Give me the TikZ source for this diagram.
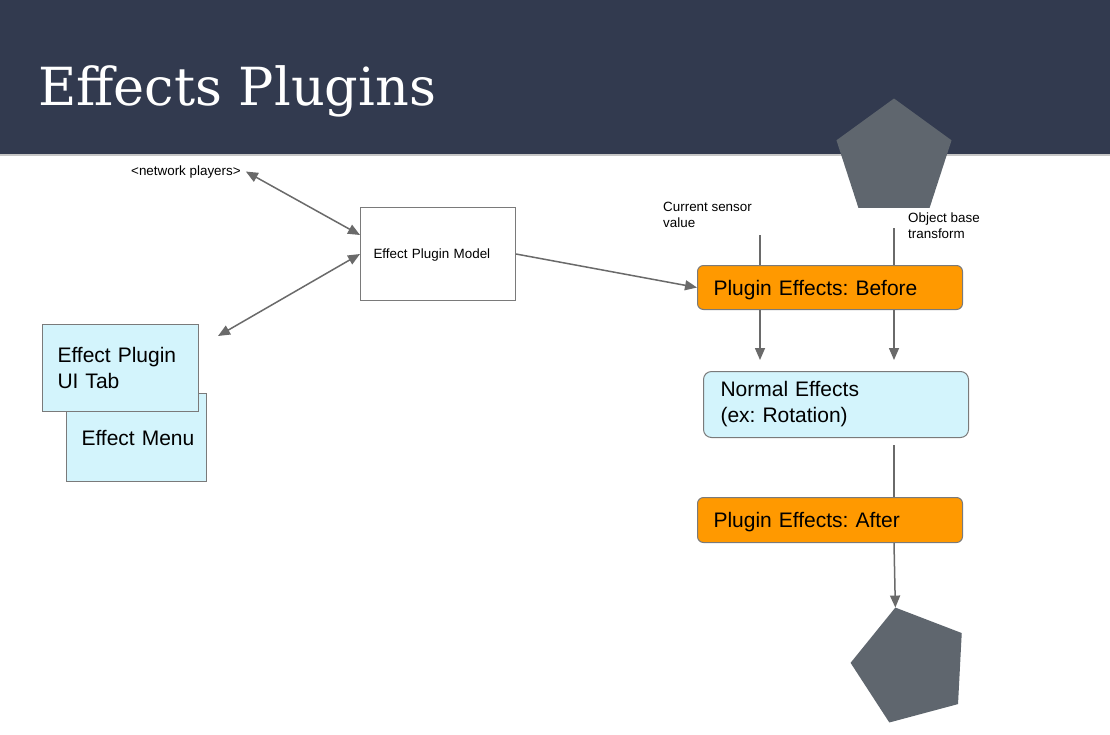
\documentclass[tikz,border=0pt]{standalone}
\usepackage{fontspec}
\setmainfont{Liberation Sans}
\newfontfamily\titlefont{DejaVu Serif}
\usetikzlibrary{arrows.meta,calc,positioning,shapes.geometric}
\definecolor{header}{HTML}{323A4F}
\definecolor{edge}{HTML}{6A6A6A}
\definecolor{frame}{HTML}{7A7A7A}
\definecolor{sky}{HTML}{D3F4FC}
\definecolor{amber}{HTML}{FF9900}
\definecolor{slate}{HTML}{5F666E}
\tikzset{
  panel/.style={draw=frame,line width=1pt,anchor=north west,align=left,inner ysep=0pt,
    font=\fontsize{21}{26}\selectfont\frenchspacing},
  note/.style={align=left,inner sep=0pt,font=\fontsize{13.4}{15.5}\selectfont},
  pent/.style={regular polygon,regular polygon sides=5,minimum size=121pt,fill=slate,
    inner sep=0pt,outer sep=0pt},
  link/.style={draw=edge,line width=1.5pt},
  tip/.style={-{Triangle[length=12pt,width=10pt]}},
  tips/.style={{Triangle[length=12pt,width=10pt]}-{Triangle[length=12pt,width=10pt]}}
}

\begin{document}
\begin{tikzpicture}[x=1pt,y=-1pt]
\useasboundingbox (0,0) rectangle (1110,734);
\fill[white] (0,0) rectangle (1110,734);
% title band
\fill[header] (0,0) rectangle (1110,155);
\draw[gray!45,line width=1.5pt] (0,155) -- (1110,155);
\node[anchor=base west,inner sep=0pt,text=white,font=\titlefont\fontsize{52.5}{60}\selectfont] (title) at (38,105) {Effects Plugins};
\node[pent] (inpent) at (894,159) {};

% left side
\node[note,anchor=base west] (players) at (131,175) {<network players>};
\node[panel,fill=white,text width=129pt,inner xsep=13pt,minimum height=93pt,text depth=0pt,
  font=\fontsize{13.4}{15.5}\selectfont] (model) at (360,207) {Effect Plugin Model};
\node[panel,fill=sky,text width=110pt,inner xsep=15pt,minimum height=88pt] (menu) at (66,393) {\mbox{Effect Menu}};
\node[panel,fill=sky,text width=126pt,inner xsep=15pt,minimum height=87pt] (uitab) at (42,324) {Effect Plugin\\UI Tab};
\coordinate (uiend) at (218,336);

% effect chain
\node[note,anchor=north west] (sensor) at (663,202) {Current sensor\\value};
\node[note,anchor=north west] (basetf) at (908,213) {Object base\\transform};
\node[panel,fill=amber,rounded corners=6pt,text width=233pt,inner xsep=16pt,minimum height=44pt,text depth=0pt] (before) at (697,265) {Plugin Effects: Before};
\node[panel,fill=sky,rounded corners=8pt,text width=231pt,inner xsep=17pt,minimum height=66pt] (normal) at (703,371) {Normal Effects\\(ex: Rotation)};
\node[panel,fill=amber,rounded corners=6pt,text width=233pt,inner xsep=16pt,minimum height=45pt,text depth=0pt] (after) at (697,497) {Plugin Effects: After};
\node[pent,shape border rotate=15] (outpent) at (911,666) {};

\coordinate (sensorin) at (760,235);
\coordinate (basein) at (894,228);
\coordinate (sensorout) at (760,360);
\coordinate (baseout) at (894,360);
\coordinate (normalout) at (894,445);

\draw[link,tips] ([xshift=5pt]players.east) -- ([yshift=19pt]model.west);
\draw[link,tips] (uiend) -- (model.west);
\draw[link,tip] (model.east) -- (before.west);
\draw[link] (sensorin) -- (sensorin |- before.north);
\draw[link] (basein) -- (basein |- before.north);
\draw[link,tip] (sensorout |- before.south) -- (sensorout);
\draw[link,tip] (baseout |- before.south) -- (baseout);
\draw[link] (normalout) -- (normalout |- after.north);
\draw[link,tip] (normalout |- after.south) -- (outpent.corner 1);
\end{tikzpicture}
\end{document}
